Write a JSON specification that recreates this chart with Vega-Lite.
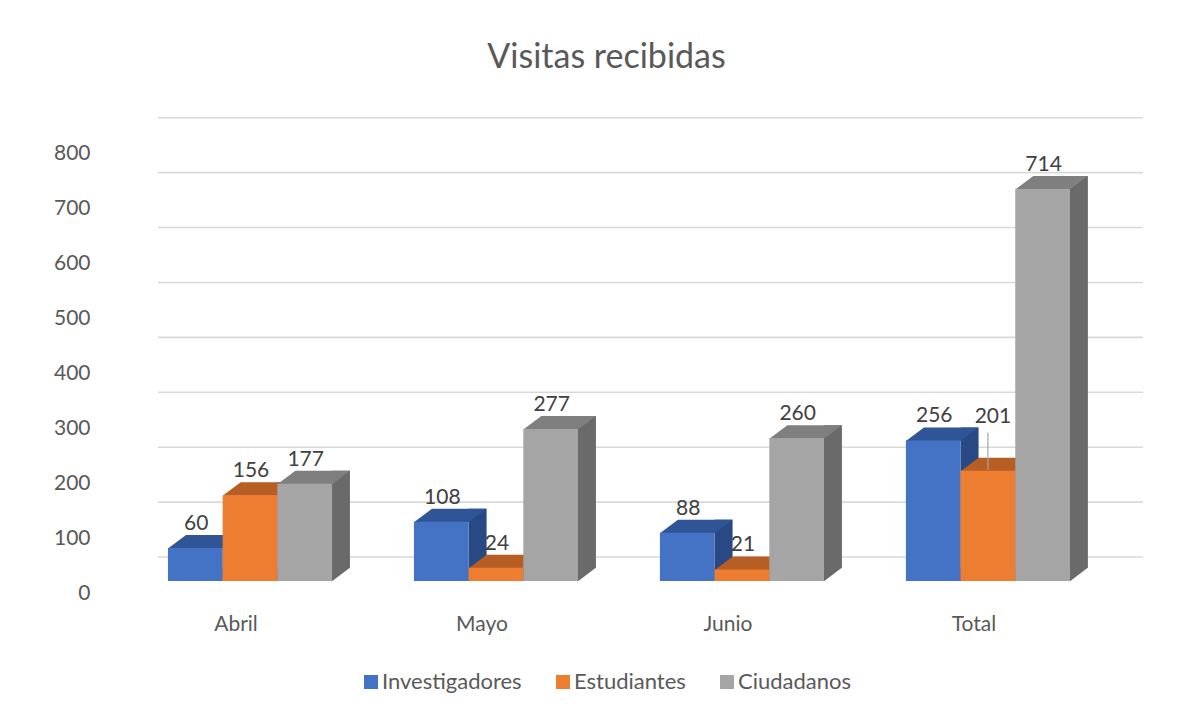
{
  "$schema": "https://vega.github.io/schema/vega-lite/v6.json",
  "width": 985,
  "height": 470,
  "autosize": {"type": "none"},
  "padding": {"left": 158, "top": 111, "right": 51, "bottom": 132},
  "background": "white",
  "title": {"text": "Visitas recibidas", "fontSize": 34, "font": "Lato", "fontWeight": "normal", "color": "#595959", "anchor": "middle", "frame": "group", "dx": -44, "dy": 36, "offset": 45, "baseline": "alphabetic"},
  "datasets": {
    "visitas": [
      {"month": "Abril", "series": "Investigadores", "value": 60},
      {"month": "Abril", "series": "Estudiantes", "value": 156},
      {"month": "Abril", "series": "Ciudadanos", "value": 177},
      {"month": "Mayo", "series": "Investigadores", "value": 108},
      {"month": "Mayo", "series": "Estudiantes", "value": 24},
      {"month": "Mayo", "series": "Ciudadanos", "value": 277},
      {"month": "Junio", "series": "Investigadores", "value": 88},
      {"month": "Junio", "series": "Estudiantes", "value": 21},
      {"month": "Junio", "series": "Ciudadanos", "value": 260},
      {"month": "Total", "series": "Investigadores", "value": 256},
      {"month": "Total", "series": "Estudiantes", "value": 201},
      {"month": "Total", "series": "Ciudadanos", "value": 714}
    ],
    "grid": [
      {"value": 0}, {"value": 100}, {"value": 200}, {"value": 300}, {"value": 400},
      {"value": 500}, {"value": 600}, {"value": 700}, {"value": 800}
    ]
  },
  "resolve": {"scale": {"xOffset": "independent"}},
  "encoding": {
    "y": {"field": "value", "type": "quantitative", "stack": null, "scale": {"domain": [0, 856], "nice": false, "zero": true}, "axis": {"title": null, "values": [0, 100, 200, 300, 400, 500, 600, 700, 800]}}
  },
  "layer": [
    {
      "data": {"name": "grid"},
      "mark": {"type": "rule", "color": "#D9D9D9", "strokeWidth": 1.6, "yOffset": -24}
    },
    {
      "data": {"name": "visitas"},
      "mark": {"type": "rule", "strokeWidth": 18, "strokeCap": "butt", "yOffset": -13, "y2Offset": -13},
      "encoding": {
        "x": {"field": "month", "type": "nominal", "sort": ["Abril", "Mayo", "Junio", "Total"], "scale": {"paddingInner": 0.333, "paddingOuter": 0.1687, "align": 0.12}, "axis": {"title": null}},
        "xOffset": {"field": "series", "type": "nominal", "sort": ["Investigadores", "Estudiantes", "Ciudadanos"], "scale": {"type": "band", "range": [36.33, 200.33], "paddingInner": 0, "paddingOuter": 0}},
        "y2": {"datum": 0},
        "color": {"condition": [{"test": "datum.series === 'Investigadores'", "value": "#284983"}, {"test": "datum.series === 'Estudiantes'", "value": "#A2521D"}], "value": "#6A6A6A"}
      }
    },
    {
      "data": {"name": "visitas"},
      "mark": {"type": "point", "filled": true, "opacity": 1, "strokeWidth": 0, "size": 400, "shape": "M 2.7 0.05 L 2.7 -1.35 L 4.55 -1.35 Z"},
      "encoding": {
        "x": {"field": "month", "type": "nominal", "sort": ["Abril", "Mayo", "Junio", "Total"], "scale": {"paddingInner": 0.333, "paddingOuter": 0.1687, "align": 0.12}, "axis": {"title": null}},
        "xOffset": {"field": "series", "type": "nominal", "sort": ["Investigadores", "Estudiantes", "Ciudadanos"], "scale": {"type": "band", "paddingInner": 0, "paddingOuter": 0}},
        "y": {"datum": 0, "type": "quantitative", "stack": null, "scale": {"domain": [0, 856], "nice": false, "zero": true}, "axis": {"title": null, "values": [0, 100, 200, 300, 400, 500, 600, 700, 800]}},
        "color": {"condition": [{"test": "datum.series === 'Investigadores'", "value": "#284983"}, {"test": "datum.series === 'Estudiantes'", "value": "#A2521D"}], "value": "#6A6A6A"}
      }
    },
    {
      "data": {"name": "visitas"},
      "mark": {"type": "point", "filled": true, "opacity": 1, "strokeWidth": 0, "size": 400, "shape": "M -2.733 0.05 L 2.733 0.05 L 4.533 -1.3 L -0.933 -1.3 Z"},
      "encoding": {
        "x": {"field": "month", "type": "nominal", "sort": ["Abril", "Mayo", "Junio", "Total"], "scale": {"paddingInner": 0.333, "paddingOuter": 0.1687, "align": 0.12}, "axis": {"title": null}},
        "xOffset": {"field": "series", "type": "nominal", "sort": ["Investigadores", "Estudiantes", "Ciudadanos"], "scale": {"type": "band", "paddingInner": 0, "paddingOuter": 0}},
        "color": {"condition": [{"test": "datum.series === 'Investigadores'", "value": "#2F5597"}, {"test": "datum.series === 'Estudiantes'", "value": "#B65E23"}], "value": "#7F7F7F"}
      }
    },
    {
      "data": {"name": "visitas"},
      "mark": {"type": "bar"},
      "encoding": {
        "x": {"field": "month", "type": "nominal", "sort": ["Abril", "Mayo", "Junio", "Total"], "scale": {"paddingInner": 0.333, "paddingOuter": 0.1687, "align": 0.12}, "axis": {"title": null}},
        "xOffset": {"field": "series", "type": "nominal", "sort": ["Investigadores", "Estudiantes", "Ciudadanos"], "scale": {"type": "band", "paddingInner": 0, "paddingOuter": 0}},
        "color": {"field": "series", "type": "nominal", "sort": ["Investigadores", "Estudiantes", "Ciudadanos"], "scale": {"domain": ["Investigadores", "Estudiantes", "Ciudadanos"], "range": ["#4472C4", "#ED7D31", "#A5A5A5"]},
          "legend": {"title": null, "orient": "none", "legendX": 202, "legendY": 560, "direction": "horizontal", "symbolType": "square", "symbolSize": 196, "symbolStrokeWidth": 0, "labelFont": "Lato", "labelFontSize": 22, "labelColor": "#595959", "labelOffset": 0, "columnPadding": 30, "padding": 0}}
      }
    },
    {
      "data": {"name": "visitas"},
      "transform": [{"filter": "!(datum.month === 'Total' && datum.series === 'Estudiantes')"}],
      "mark": {"type": "text", "font": "Lato", "fontSize": 21, "color": "#404040", "baseline": "alphabetic", "align": "center", "dy": -18, "dx": 1},
      "encoding": {
        "x": {"field": "month", "type": "nominal", "sort": ["Abril", "Mayo", "Junio", "Total"], "scale": {"paddingInner": 0.333, "paddingOuter": 0.1687, "align": 0.12}, "axis": {"title": null}},
        "xOffset": {"field": "series", "type": "nominal", "sort": ["Investigadores", "Estudiantes", "Ciudadanos"], "scale": {"type": "band", "paddingInner": 0, "paddingOuter": 0}},
        "text": {"field": "value", "type": "quantitative"}
      }
    },
    {
      "data": {"name": "visitas"},
      "transform": [{"filter": "datum.month === 'Total' && datum.series === 'Estudiantes'"}],
      "mark": {"type": "text", "font": "Lato", "fontSize": 21, "color": "#404040", "baseline": "alphabetic", "align": "center", "dy": -48, "dx": 5},
      "encoding": {
        "x": {"field": "month", "type": "nominal", "sort": ["Abril", "Mayo", "Junio", "Total"], "scale": {"paddingInner": 0.333, "paddingOuter": 0.1687, "align": 0.12}, "axis": {"title": null}},
        "xOffset": {"field": "series", "type": "nominal", "sort": ["Investigadores", "Estudiantes", "Ciudadanos"], "scale": {"type": "band", "paddingInner": 0, "paddingOuter": 0}},
        "text": {"field": "value", "type": "quantitative"}
      }
    },
    {
      "data": {"name": "visitas"},
      "transform": [{"filter": "datum.month === 'Total' && datum.series === 'Estudiantes'"}],
      "mark": {"type": "rule", "color": "#A6A6A6", "strokeWidth": 1.2, "yOffset": -38, "y2Offset": -1},
      "encoding": {
        "x": {"field": "month", "type": "nominal", "sort": ["Abril", "Mayo", "Junio", "Total"], "scale": {"paddingInner": 0.333, "paddingOuter": 0.1687, "align": 0.12}, "axis": {"title": null}},
        "xOffset": {"field": "series", "type": "nominal", "sort": ["Investigadores", "Estudiantes", "Ciudadanos"], "scale": {"type": "band", "paddingInner": 0, "paddingOuter": 0}},
        "y2": {"field": "value"}
      }
    }
  ],
  "config": {
    "font": "Lato",
    "view": {"stroke": null},
    "axisX": {"domain": false, "ticks": false, "tickSize": 0, "grid": false, "labelFont": "Lato", "labelFontSize": 21, "labelColor": "#595959", "labelPadding": 49, "labelBaseline": "alphabetic", "labelOffset": -14, "labelAngle": 0},
    "axisY": {"domain": false, "ticks": false, "tickSize": 0, "grid": false, "labelFont": "Lato", "labelFontSize": 21, "labelColor": "#595959", "labelPadding": 8, "offset": 60, "labelOffset": 12}
  }
}
